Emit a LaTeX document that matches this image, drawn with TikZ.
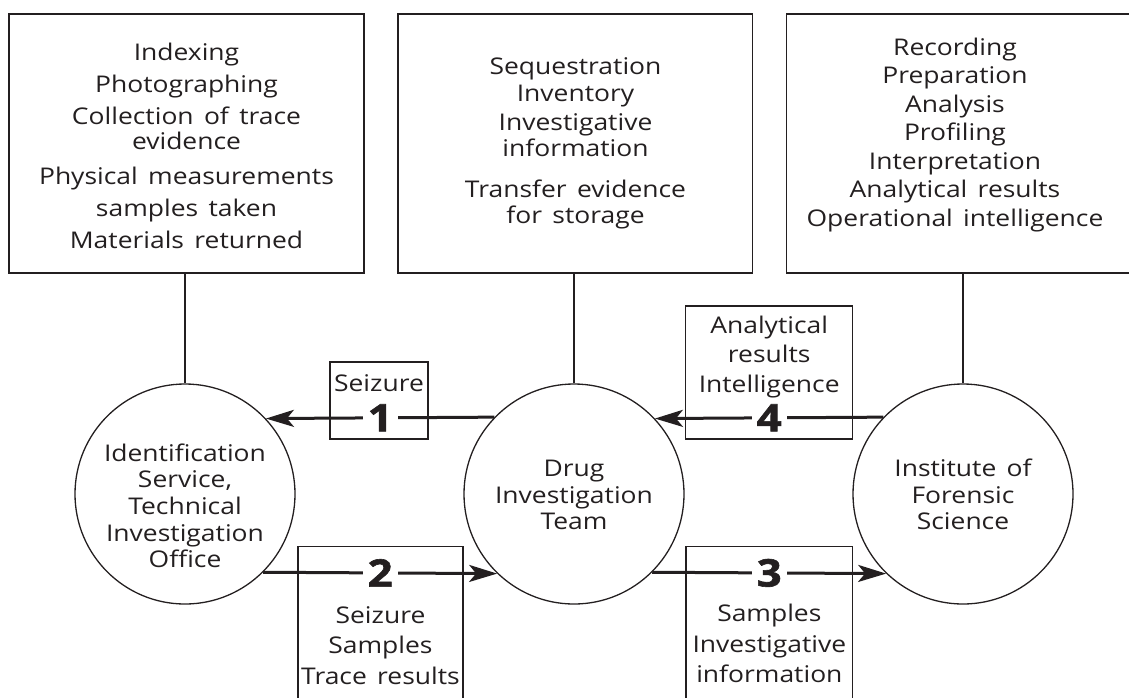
\documentclass[tikz,border=0pt]{standalone}
\usepackage{fontspec}
\setmainfont{Open Sans}[FakeStretch=1.15,WordSpace=1.5,BoldFeatures={FakeBold=1.6}]
\usetikzlibrary{arrows.meta}
\definecolor{ink}{RGB}{35,31,32}
\begin{document}
\begin{tikzpicture}[x=1pt,y=-1pt,
  every node/.style={text=ink},
  panel/.style={draw=ink,line width=1.3pt,rectangle,inner sep=0pt},
  agency/.style={draw=ink,line width=1.3pt,circle,minimum size=220pt,inner sep=0pt},
  body/.style={align=center,inner sep=0pt,anchor=base},
  link/.style={draw=ink,line width=1.3pt},
  flow/.style={draw=ink,line width=3pt,-{Stealth[length=28pt,width=17pt,inset=7pt]}},
  num/.style={font=\fontsize{38}{38}\selectfont\bfseries,fill=white,inner xsep=5pt,inner ysep=0pt}
]
\useasboundingbox (0,0) rectangle (1129,697);
\begin{scope}
\clip (0,0) rectangle (1129,697);

% activity panels along the top (text nodes are placed by their last baseline)
\node[panel,minimum width=355pt,minimum height=259pt] (tl) at (186.5,143.5) {};
\node[panel,minimum width=354.7pt,minimum height=259pt] (tm) at (575.35,143.5) {};
\node[panel,minimum width=353.3pt,minimum height=259pt] (tr) at (963.35,143.5) {};

\node[body,font=\fontsize{23}{25}\selectfont] (tlt) at (186.5,248)
  {Indexing\\[7pt]Photographing\\[7pt]Collection of trace\\evidence\\[10pt]Physical measurements\\[7pt]samples taken\\[7pt]Materials returned};
\node[body,font=\fontsize{23}{26}\selectfont] (tmt) at (575.5,223)
  {Sequestration\\[1pt]Inventory\\[3pt]Investigative\\information\\[15pt]Transfer evidence\\for storage};
\node[body,font=\fontsize{23}{28.5}\selectfont] (trt) at (955,226)
  {Recording\\Preparation\\Analysis\\Profiling\\Interpretation\\Analytical results\\Operational intelligence};

% the three agencies
\node[agency] (ids) at (185,494) {};
\node[agency] (dit) at (574,494) {};
\node[agency] (ifs) at (963,494) {};

\node[body,font=\fontsize{23}{26.7}\selectfont] (idst) at (185,567.8)
  {Identification\\Service,\\Technical\\Investigation\\Office};
\node[body,font=\fontsize{23}{26.3}\selectfont] (ditt) at (574,529.3)
  {Drug\\Investigation\\Team};
\node[body,font=\fontsize{23}{26.3}\selectfont] (ifst) at (963,529.3)
  {Institute of\\Forensic\\Science};

\draw[link] (tl.south -| ids.north) -- (ids.north);
\draw[link] (tm.south -| dit.north) -- (dit.north);
\draw[link] (tr.south -| ifs.north) -- (ifs.north);

% exchange labels
\node[panel,minimum width=98pt,minimum height=77pt] (b1) at (379,400.5) {};
\node[panel,minimum width=167pt,minimum height=133pt] (b4) at (769.2,372.5) {};
\node[panel,minimum width=165pt,minimum height=173.3pt] (b2) at (380.5,633.35) {};
\node[panel,minimum width=166.7pt,minimum height=173.3pt] (b3) at (769.35,633.35) {};

\node[body,font=\fontsize{23}{29.5}\selectfont] (b1t) at (379,391.7) {Seizure};
\node[body,font=\fontsize{23}{29.5}\selectfont] (b4t) at (769.2,392)
  {Analytical\\results\\Intelligence};
\node[body,font=\fontsize{23}{30.5}\selectfont] (b2t) at (380.5,684)
  {Seizure\\Samples\\Trace results};
\node[body,font=\fontsize{23}{30.5}\selectfont] (b3t) at (769.35,682.7)
  {Samples\\Investigative\\information};

% numbered flows between the agencies
\draw[flow] (dit.136.3) -- node[num] (n1) {1} (ids.43.7);
\draw[flow] (ids.-45.9) -- node[num] (n2) {2} (dit.-134.1);
\draw[flow] (dit.-45.9) -- node[num] (n3) {3} (ifs.-134.1);
\draw[flow] (ifs.136.3) -- node[num] (n4) {4} (dit.43.7);
\end{scope}
\end{tikzpicture}
\end{document}
